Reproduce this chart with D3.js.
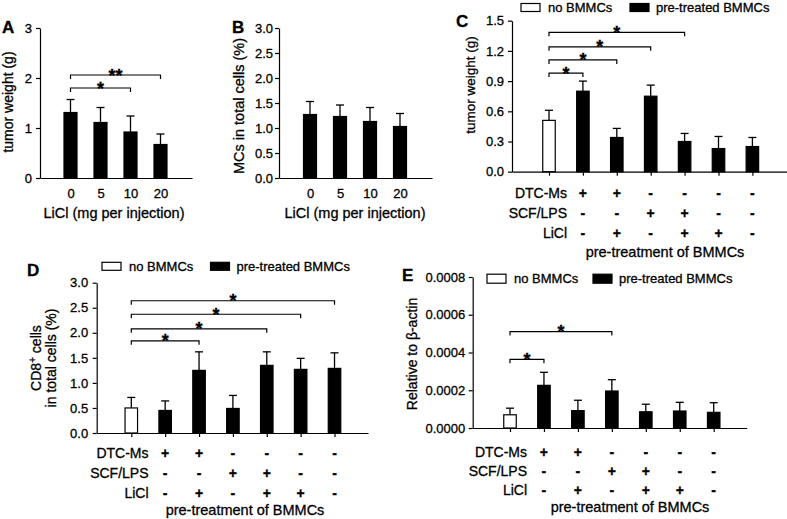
<!DOCTYPE html>
<html>
<head>
<meta charset="utf-8">
<script src="https://cdn.jsdelivr.net/npm/d3@7"></script>
<style>
html,body{margin:0;padding:0;background:#fff;}
svg{display:block;}
svg text{stroke:#000;stroke-width:0.3px;}
</style>
</head>
<body>
<svg id="chart" width="787" height="519"></svg>
<script>
// ---------------- DATA ----------------
const doses = ["0", "5", "10", "20"];
const tumorWeightA = [1.31, 1.11, 0.92, 0.67];
const tumorWeightAErr = [0.26, 0.30, 0.32, 0.21];
const mcsB = [1.27, 1.23, 1.13, 1.03];
const mcsBErr = [0.26, 0.23, 0.28, 0.26];

const groups = ["no BMMCs", "DTC-Ms", "DTC-Ms+LiCl", "SCF/LPS", "SCF/LPS+LiCl", "LiCl", "none"];
const groupIsPre = [false, true, true, true, true, true, true];

const tumorWeightC = [0.51, 0.80, 0.34, 0.75, 0.30, 0.23, 0.25];
const tumorWeightCErr = [0.10, 0.10, 0.09, 0.11, 0.08, 0.12, 0.09];
const cd8D = [0.50, 0.45, 1.25, 0.49, 1.35, 1.27, 1.29];
const cd8DErr = [0.21, 0.19, 0.37, 0.26, 0.27, 0.22, 0.31];
const actinE = [0.000070, 0.000226, 0.000092, 0.000196, 0.000086, 0.000090, 0.000083];
const actinEErr = [0.000035, 0.000069, 0.000055, 0.000060, 0.000040, 0.000046, 0.000051];

const rowLabels = ["DTC-Ms", "SCF/LPS", "LiCl"];
const rowDTC = ["+", "+", "-", "-", "-", "-"];
const rowSCF = ["-", "-", "+", "+", "-", "-"];
const rowLiCl = ["-", "+", "-", "+", "+", "-"];
const treatTitle = "pre-treatment of BMMCs";
const legendLabels = ["no BMMCs", "pre-treated BMMCs"];

const ticksA = [0, 1, 2, 3];
const ticksB = [0, 0.5, 1, 1.5, 2, 2.5, 3];
const ticksC = [0, 0.3, 0.6, 0.9, 1.2, 1.5];
const ticksD = [0, 0.5, 1, 1.5, 2, 2.5, 3];
const ticksE = [0, 0.0002, 0.0004, 0.0006, 0.0008];

const sigA = [{from: 0, to: 2, label: "*", level: 1.80}, {from: 0, to: 3, label: "**", level: 2.06}];
const sigC = [{from: 0, to: 1, label: "*", level: 0.98}, {from: 0, to: 2, label: "*", level: 1.11},
              {from: 0, to: 3, label: "*", level: 1.24}, {from: 0, to: 4, label: "*", level: 1.385}];
const sigD = [{from: 0, to: 2, label: "*", level: 1.84}, {from: 0, to: 4, label: "*", level: 2.08},
              {from: 0, to: 5, label: "*", level: 2.37}, {from: 0, to: 6, label: "*", level: 2.64}];
const sigE = [{from: 0, to: 1, label: "*", level: 0.000364}, {from: 0, to: 3, label: "*", level: 0.000511}];

// ---------------- DRAW ----------------
const FONT = "'Liberation Sans', Arial, Helvetica, sans-serif";
const svg = d3.select("#chart").style("font-family", FONT);
svg.append("rect").attr("width", 787).attr("height", 519).attr("fill", "#fff");

function drawPanel(p) {
  const g = svg.append("g");
  const n = p.vals.length;
  const x = d3.scaleLinear()
    .domain([(p.xl - p.first) / p.step, (p.xr - p.first) / p.step])
    .range([p.xl, p.xr]);
  const y = d3.scaleLinear().domain([0, p.ymax]).range([p.y0, p.yt]);
  const bw = p.bw;

  // error bars (upper)
  const eb = g.append("g").attr("stroke", "#000").attr("stroke-width", 1.3).attr("fill", "none");
  p.vals.forEach((v, i) => {
    const cx = x(i), top = y(v + p.errs[i]);
    eb.append("line").attr("x1", cx).attr("x2", cx).attr("y1", y(v)).attr("y2", top);
    eb.append("line").attr("x1", cx - 4).attr("x2", cx + 4).attr("y1", top).attr("y2", top);
  });

  // bars
  g.append("g").selectAll("rect").data(p.vals).join("rect")
    .attr("x", (d, i) => x(i) - bw / 2)
    .attr("y", d => y(d))
    .attr("width", bw)
    .attr("height", d => y(0) - y(d))
    .attr("fill", (d, i) => (p.pre && !p.pre[i]) ? "#fff" : "#000")
    .attr("stroke", "#000").attr("stroke-width", 1.2);

  // y axis
  const ya = g.append("g").attr("transform", `translate(${p.xl},0)`)
    .call(d3.axisLeft(y).tickValues(p.ticks).tickFormat(p.fmt).tickSize(4).tickSizeOuter(0).tickPadding(p.tpad));
  // x axis
  const xa = g.append("g").attr("transform", `translate(0,${p.y0})`)
    .call(d3.axisBottom(x).tickValues(d3.range(n)).tickSize(p.xtick).tickSizeOuter(0).tickPadding(11)
      .tickFormat(p.xcats ? (i => p.xcats[i]) : (() => "")));
  [ya, xa].forEach(a => {
    a.attr("font-family", FONT).attr("font-size", 13);
    a.selectAll("path,line").attr("stroke", "#000").attr("stroke-width", 1.2);
    a.selectAll("text").attr("fill", "#000");
  });

  // y title
  const yt = g.append("text")
    .attr("transform", `translate(${p.ytx},${p.yty}) rotate(-90)`)
    .attr("text-anchor", "middle").attr("font-size", p.ytfs || 14).attr("fill", "#000");
  if (p.ytitle2) {
    const t1 = yt.append("tspan").attr("x", 0).attr("dy", "-0.2em");
    t1.append("tspan").text("CD8");
    t1.append("tspan").attr("baseline-shift", "super").attr("font-size", 10).text("+");
    t1.append("tspan").text(" cells");
    yt.append("tspan").attr("x", 0).attr("dy", "1.05em").text(p.ytitle2);
  } else {
    yt.attr("dy", "0.35em").text(p.ytitle);
  }

  // panel letter
  g.append("text").attr("x", p.lx).attr("y", p.ly).attr("font-size", 17).attr("font-weight", "bold")
    .attr("fill", "#000").text(p.letter);

  // significance brackets
  const sg = g.append("g");
  p.sig.forEach(s => {
    const yy = y(s.level);
    sg.append("path")
      .attr("d", `M${x(s.from)},${yy + 4}V${yy}H${x(s.to)}V${yy + 4}`)
      .attr("fill", "none").attr("stroke", "#000").attr("stroke-width", 1.2);
    sg.append("text").attr("x", (x(s.from) + x(s.to)) / 2).attr("y", yy + 6.5)
      .attr("text-anchor", "middle").attr("font-size", 18).attr("font-weight", "bold")
      .attr("fill", "#000").text(s.label);
  });

  // x title for dose panels
  if (p.xtitle) {
    g.append("text").attr("x", p.xtx).attr("y", p.xty).attr("text-anchor", "middle")
      .attr("font-size", 14.5).attr("fill", "#000").text(p.xtitle);
  }

  // treatment table
  if (p.table) {
    const rows = [rowDTC, rowSCF, rowLiCl];
    rows.forEach((r, ri) => {
      const yy = p.table.rowY[ri];
      g.append("text").attr("x", p.table.labelX).attr("y", yy + 5).attr("text-anchor", "end")
        .attr("font-size", 14).attr("fill", "#000").text(rowLabels[ri]);
      r.forEach((s, ci) => {
        g.append("text").attr("x", x(ci + 1)).attr("y", yy + 5).attr("text-anchor", "middle")
          .attr("font-size", 14).attr("font-weight", "bold").attr("fill", "#000").text(s);
      });
    });
    g.append("text").attr("x", p.table.titleX).attr("y", p.table.titleY + 5).attr("text-anchor", "middle")
      .attr("font-size", 14.5).attr("fill", "#000").text(treatTitle);
  }

  // legend
  if (p.legend) {
    const L = p.legend;
    g.append("rect").attr("x", L.x1).attr("y", L.y - L.h / 2).attr("width", 19).attr("height", L.h)
      .attr("fill", "#fff").attr("stroke", "#000").attr("stroke-width", 1.2);
    g.append("text").attr("x", L.x1 + 27).attr("y", L.y + 4.5).attr("font-size", 13).attr("fill", "#000").text(legendLabels[0]);
    g.append("rect").attr("x", L.x2).attr("y", L.y - L.h / 2).attr("width", 19).attr("height", L.h)
      .attr("fill", "#000").attr("stroke", "#000").attr("stroke-width", 1.2);
    g.append("text").attr("x", L.x2 + 26).attr("y", L.y + 4.5).attr("font-size", 13).attr("fill", "#000").text(legendLabels[1]);
  }
}

drawPanel({
  letter: "A", lx: 2, ly: 33,
  vals: tumorWeightA, errs: tumorWeightAErr, xcats: doses,
  xl: 40, xr: 192, first: 70.5, step: 30, bw: 13,
  y0: 178, yt: 28, ymax: 3, ticks: ticksA, fmt: d3.format("d"), tpad: 4, xtick: 0,
  ytitle: "tumor weight (g)", ytx: 8, yty: 102,
  xtitle: "LiCl (mg per injection)", xtx: 114, xty: 218,
  sig: sigA
});

drawPanel({
  letter: "B", lx: 232, ly: 33,
  vals: mcsB, errs: mcsBErr, xcats: doses,
  xl: 279, xr: 432, first: 310, step: 30, bw: 13,
  y0: 178, yt: 28, ymax: 3, ticks: ticksB, fmt: d3.format(".1f"), tpad: 2, xtick: 0,
  ytitle: "MCs in total cells (%)", ytx: 239, yty: 106, ytfs: 14.5,
  xtitle: "LiCl (mg per injection)", xtx: 355, xty: 218,
  sig: []
});

drawPanel({
  letter: "C", lx: 456, ly: 27,
  vals: tumorWeightC, errs: tumorWeightCErr, pre: groupIsPre,
  xl: 512, xr: 787, first: 549, step: 33.9, bw: 12.5,
  y0: 171.7, yt: 20.7, ymax: 1.5, ticks: ticksC, fmt: d3.format(".1f"), tpad: 4, xtick: 4,
  ytitle: "tumor weight (g)", ytx: 470, yty: 85, ytfs: 13.5,
  sig: sigC,
  table: {labelX: 567, rowY: [193.3, 212.7, 232.7], titleX: 665, titleY: 251.7},
  legend: {x1: 521, x2: 630, y: 7.5, h: 8}
});

drawPanel({
  letter: "D", lx: 27, ly: 276,
  vals: cd8D, errs: cd8DErr, pre: groupIsPre,
  xl: 96.7, xr: 368, first: 131.3, step: 33.87, bw: 12.5,
  y0: 433, yt: 282.7, ymax: 3, ticks: ticksD, fmt: d3.format(".1f"), tpad: 4.5, xtick: 4,
  ytitle2: "in total cells (%)", ytx: 44, yty: 358, ytfs: 14,
  sig: sigD,
  table: {labelX: 148.5, rowY: [453.3, 473.3, 492.7], titleX: 245, titleY: 510},
  legend: {x1: 102, x2: 210.5, y: 266.3, h: 8}
});

drawPanel({
  letter: "E", lx: 402, ly: 281,
  vals: actinE, errs: actinEErr, pre: groupIsPre,
  xl: 472.7, xr: 746.7, first: 510, step: 33.95, bw: 12.5,
  y0: 428, yt: 277, ymax: 0.0008, ticks: ticksE, fmt: d3.format(".4f"), tpad: 3.5, xtick: 4,
  ytitle: "Relative to β-actin", ytx: 412, yty: 354, ytfs: 14,
  sig: sigE,
  table: {labelX: 527, rowY: [451.7, 470.7, 490], titleX: 630, titleY: 507.3},
  legend: {x1: 487, x2: 593, y: 278.7, h: 9}
});
</script>
</body>
</html>
